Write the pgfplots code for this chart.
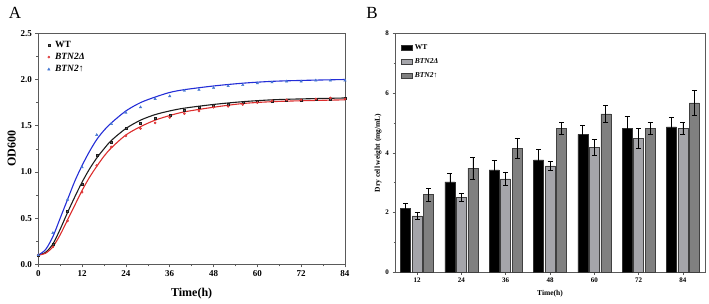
\documentclass[border=0pt]{standalone}
\usepackage{fontspec}
\setmainfont{Liberation Serif}
\usepackage{pgfplots}
\usepackage{pgfplotstable}
\pgfplotsset{compat=1.18}

\definecolor{wtcol}{RGB}{30,30,30}
\definecolor{delcol}{RGB}{220,45,45}
\definecolor{upcol}{RGB}{35,45,215}
\definecolor{upmark}{RGB}{70,120,210}
\definecolor{bargrayA}{RGB}{165,165,170}
\definecolor{bargrayB}{RGB}{128,128,128}
\definecolor{framecol}{RGB}{90,90,90}

% OD600 measurements (every 4 h)
\pgfplotstableread{
t    wt    del   up
0    0.10  0.10  0.10
4    0.22  0.19  0.34
8    0.58  0.47  0.70
12   0.87  0.78  1.05
16   1.18  1.07  1.40
20   1.32  1.27  1.52
24   1.47  1.39  1.64
28   1.53  1.47  1.70
32   1.58  1.53  1.79
36   1.61  1.59  1.82
40   1.67  1.63  1.88
44   1.70  1.66  1.89
48   1.72  1.70  1.91
52   1.73  1.71  1.93
56   1.75  1.73  1.94
60   1.76  1.75  1.96
64   1.77  1.77  1.97
68   1.78  1.78  1.98
72   1.78  1.78  1.98
76   1.79  1.79  1.99
80   1.79  1.80  1.99
84   1.80  1.79  1.99
}\growth

% fitted growth curves
\pgfplotstableread{
t    wt    del   up
0    0.10  0.10  0.10
2    0.13  0.12  0.16
4    0.22  0.19  0.30
6    0.38  0.32  0.50
8    0.56  0.48  0.70
10   0.73  0.64  0.90
12   0.89  0.80  1.07
14   1.03  0.94  1.22
16   1.15  1.06  1.35
18   1.25  1.17  1.45
20   1.34  1.26  1.53
24   1.47  1.40  1.66
28   1.56  1.49  1.75
32   1.62  1.56  1.81
36   1.66  1.61  1.86
40   1.69  1.65  1.89
48   1.73  1.70  1.93
56   1.76  1.74  1.96
64   1.78  1.76  1.98
72   1.79  1.77  1.99
84   1.80  1.78  2.00
}\growthfit

% dry cell weight (mg/mL): mean and error
\pgfplotstableread{
x  wt    wte   del   dele  up    upe
0  2.13  0.18  1.89  0.13  2.60  0.22
1  3.03  0.27  2.50  0.13  3.49  0.37
2  3.43  0.31  3.13  0.23  4.16  0.34
3  3.76  0.34  3.56  0.16  4.82  0.21
4  4.62  0.31  4.18  0.27  5.30  0.28
5  4.82  0.41  4.48  0.34  4.82  0.21
6  4.87  0.33  4.82  0.21  5.67  0.43
}\dcw

\begin{document}
\begin{tikzpicture}
\path[use as bounding box] (0,0) rectangle (709pt,-303pt);

\node[font=\fontsize{17}{17}\selectfont] at (15pt,-13pt) {A};
\node[font=\fontsize{17}{17}\selectfont] at (372pt,-13pt) {B};

% ---------- growth curves ----------
\begin{axis}[
  at={(38.3pt,-264.3pt)}, anchor=south west,
  scale only axis, width=306.7pt, height=231pt,
  xmin=0, xmax=84, ymin=0, ymax=2.5,
  xtick={0,12,...,84}, ytick={0,0.5,...,2.5},
  minor x tick num=1, minor y tick num=1,
  tick pos=left, tick align=outside,
  major tick length=3pt, minor tick length=2pt,
  axis line style={framecol, line width=0.7pt},
  every tick/.style={framecol, line width=0.6pt},
  /pgf/number format/assume math mode=true,
  yticklabel style={/pgf/number format/.cd, fixed, fixed zerofill, precision=1},
  ticklabel style={font=\bfseries\fontsize{9}{9}\selectfont},
  xlabel={Time(h)}, ylabel={OD600},
  label style={font=\bfseries\fontsize{12}{12}\selectfont},
  xlabel style={yshift=-4pt},
  ylabel style={yshift=-2pt},
  legend style={at={(0.02,0.985)}, anchor=north west, draw=none, fill=none,
    font=\bfseries\fontsize{9.5}{11}\selectfont, row sep=0.5pt,
    legend cell align=left, nodes={inner xsep=5pt}},
]
\addplot[wtcol, line width=1.1pt, smooth, forget plot] table[x=t,y=wt] {\growthfit};
\addplot[delcol, line width=1.1pt, smooth, forget plot] table[x=t,y=del] {\growthfit};
\addplot[upcol, line width=1.1pt, smooth, forget plot] table[x=t,y=up] {\growthfit};

\addplot[only marks, mark=square*, mark size=1.0pt, draw=wtcol, fill=wtcol!70] table[x=t,y=wt] {\growth};
\addplot[only marks, mark=*, mark size=1.1pt, draw=delcol, fill=delcol!80] table[x=t,y=del] {\growth};
\addplot[only marks, mark=triangle*, mark size=1.4pt, draw=upmark, fill=upmark] table[x=t,y=up] {\growth};
\legend{WT, \textit{BTN2Δ}, \textit{BTN2↑}}
\end{axis}

% ---------- dry cell weight ----------
\begin{axis}[
  at={(395pt,-272.3pt)}, anchor=south west,
  scale only axis, width=310pt, height=239pt,
  xmin=-0.5, xmax=6.5, ymin=0, ymax=8,
  xtick={0,...,6}, xticklabels={12,24,36,48,60,72,84},
  ytick={0,2,...,8}, minor y tick num=1,
  tick pos=left, tick align=outside,
  major tick length=2.5pt, minor tick length=1.5pt,
  axis line style={framecol, line width=0.7pt},
  every tick/.style={framecol, line width=0.6pt},
  /pgf/number format/assume math mode=true,
  ticklabel style={font=\bfseries\fontsize{7}{7}\selectfont},
  xlabel={Time(h)}, ylabel={Dry cell weight (mg/mL)},
  label style={font=\bfseries\fontsize{7.5}{8}\selectfont},
  xlabel style={yshift=0pt},
  ylabel style={yshift=-3pt},
  ybar, bar width=10pt,
  legend style={at={(0.01,0.97)}, anchor=north west, draw=none, fill=none,
    font=\bfseries\fontsize{7.5}{9}\selectfont, row sep=3.5pt,
    legend cell align=left},
  legend image code/.code={\draw[#1] (0pt,-2pt) rectangle (11pt,3pt);},
  error bars/y dir=both, error bars/y explicit,
  error bars/error mark options={rotate=90, mark size=2.5pt, black, line width=0.7pt},
  error bars/error bar style={black, line width=0.7pt},
]
\addplot[fill=black, draw=black!80, line width=0.5pt, bar shift=-11.5pt]
  table[x=x, y=wt, y error=wte] {\dcw};
\addplot[fill=bargrayA, draw=black!75, line width=0.5pt, bar shift=0pt]
  table[x=x, y=del, y error=dele] {\dcw};
\addplot[fill=bargrayB, draw=black!75, line width=0.5pt, bar shift=11.5pt]
  table[x=x, y=up, y error=upe] {\dcw};
\legend{WT, \textit{BTN2Δ}, \textit{BTN2↑}}
\end{axis}
\end{tikzpicture}
\end{document}
